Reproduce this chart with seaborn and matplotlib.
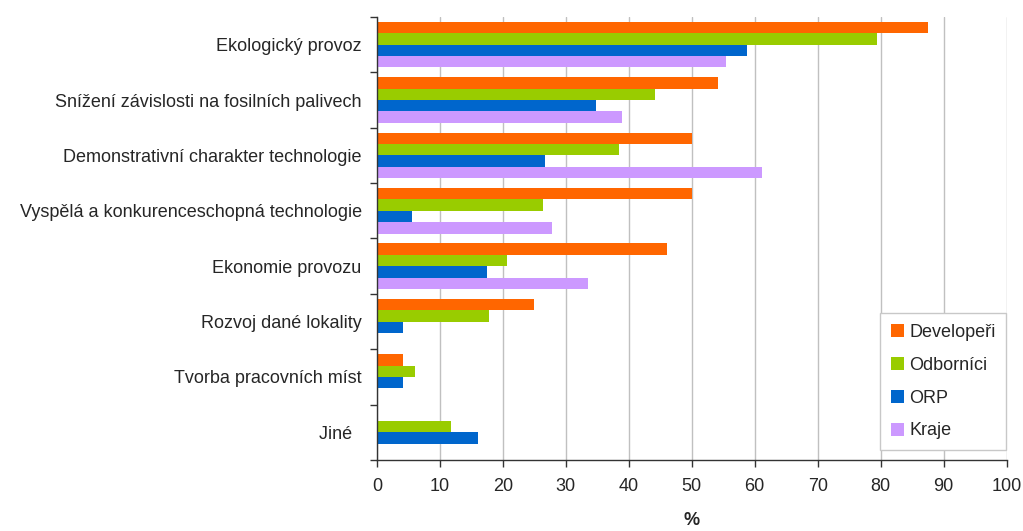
import matplotlib
matplotlib.use("Agg")
import matplotlib.pyplot as plt
import seaborn as sns
import pandas as pd
import numpy as np
from matplotlib.patches import Patch

categories = [
    "Ekologický provoz",
    "Snížení závislosti na fosilních palivech",
    "Demonstrativní charakter technologie",
    "Vyspělá a konkurenceschopná technologie",
    "Ekonomie provozu",
    "Rozvoj dané lokality",
    "Tvorba pracovních míst",
    "Jiné  ",
]
series = ["Developeři", "Odborníci", "ORP", "Kraje"]
developeri = [87.5, 54.2, 50.0, 50.0, 46.1, 25.0, 4.1, 0.0]
odbornici = [79.4, 44.2, 38.4, 26.4, 20.7, 17.8, 6.0, 11.8]
orp = [58.8, 34.8, 26.7, 5.6, 17.5, 4.1, 4.1, 16.0]
kraje = [55.4, 38.9, 61.2, 27.8, 33.5, 0.0, 0.0, 0.0]
colors = ["#FF6600", "#99CC00", "#0066CC", "#CC99FF"]
x_ticks = [0, 10, 20, 30, 40, 50, 60, 70, 80, 90, 100]

values = {"Developeři": developeri, "Odborníci": odbornici, "ORP": orp, "Kraje": kraje}
df = pd.DataFrame(
    [(c, s, v) for s in series for c, v in zip(categories, values[s])],
    columns=["kategorie", "skupina", "procenta"],
)

sns.set_style("white")
plt.rcParams["font.family"] = ["Liberation Sans", "DejaVu Sans"]

fig = plt.figure(figsize=(10.23, 5.31), dpi=100)
ax = fig.add_axes([0.3685, 0.1337, 0.6154, 0.8343])

sns.barplot(
    data=df, y="kategorie", x="procenta", hue="skupina",
    order=categories, hue_order=series, palette=colors,
    orient="h", width=0.82, linewidth=0, saturation=1, ax=ax, legend=False,
)

ax.set_xlim(0, 100)
ax.set_ylim(len(categories) - 0.5, -0.5)
ax.set_xticks(x_ticks)
ax.xaxis.grid(True, color="#c0c0c0", linewidth=1.0)
ax.set_axisbelow(True)

for side in ["top", "right"]:
    ax.spines[side].set_visible(False)
for side in ["left", "bottom"]:
    ax.spines[side].set_color("#333333")
    ax.spines[side].set_linewidth(1.0)

ax.tick_params(axis="x", which="major", bottom=True, direction="out", length=5, width=1,
               color="#333333", labelsize=13, pad=8)
ax.tick_params(axis="y", which="major", left=True, length=0, labelsize=13, pad=11)
ax.set_yticks(np.arange(-0.5, len(categories), 1.0), minor=True)
ax.tick_params(axis="y", which="minor", left=True, direction="out", length=5, width=1,
               color="#333333")

ax.set_ylabel("")
ax.set_xlabel("%", fontsize=13, fontweight="bold", labelpad=12)

handles = [Patch(facecolor=c, edgecolor="none", label=s) for c, s in zip(colors, series)]
leg = ax.legend(
    handles=handles, loc="upper left", bbox_to_anchor=(0.799, 0.332),
    fontsize=13, frameon=True, fancybox=False, shadow=False,
    handlelength=0.72, handleheight=0.72, handletextpad=0.3,
    labelspacing=0.88, borderpad=0.6, borderaxespad=0, framealpha=1,
)
leg.get_frame().set_edgecolor("#c8c8c8")
leg.get_frame().set_linewidth(1.0)

fig.savefig("out.png", dpi=100)
